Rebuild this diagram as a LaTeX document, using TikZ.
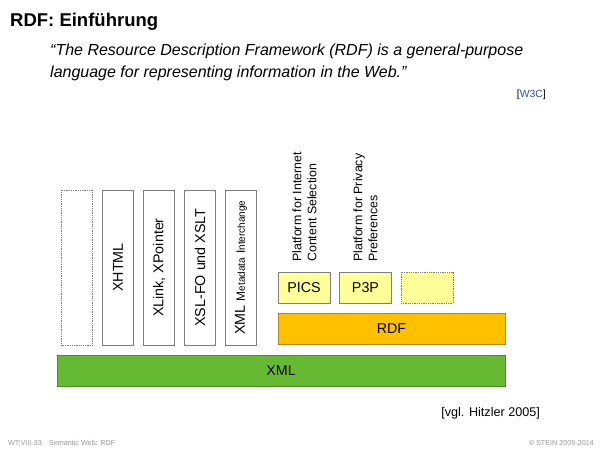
\documentclass[tikz,border=0pt]{standalone}
\usepackage{fontspec}
\setmainfont{Liberation Sans}
\definecolor{boxline}{HTML}{808080}
\definecolor{xmlgreen}{HTML}{66B933}
\definecolor{xmlline}{HTML}{4C8A2A}
\definecolor{rdforange}{HTML}{FFC000}
\definecolor{rdfline}{HTML}{B08A20}
\definecolor{paleyellow}{HTML}{FFFF99}
\definecolor{linkblue}{HTML}{2F4F9F}
\definecolor{footgray}{HTML}{9A9A9A}
\tikzset{
  vbox/.style={draw=boxline, fill=white, line width=0.8pt, rotate=90, minimum width=155pt, minimum height=31pt, inner sep=0pt, font=\fontsize{14.3}{16}\selectfont},
  vdot/.style={vbox, densely dotted},
  hbar/.style={line width=0.8pt, minimum height=31pt, inner sep=0pt, font=\fontsize{14.3}{16}\selectfont},
  smallbox/.style={draw=boxline, fill=paleyellow, line width=0.8pt, minimum width=52pt, minimum height=31pt, inner sep=0pt, font=\fontsize{14.3}{16}\selectfont},
  plabel/.style={rotate=90, anchor=west, align=left, inner sep=0pt, font=\fontsize{12.4}{15}\selectfont},
  foot/.style={inner sep=0pt, text=footgray, font=\fontsize{7.2}{9}\selectfont}
}
\begin{document}
\begin{tikzpicture}[x=1pt,y=-1pt]
\useasboundingbox (0,0) rectangle (600,450);
% title and quote
\node[anchor=base west, inner sep=0pt, font=\fontsize{18.5}{22}\selectfont\bfseries] (title) at (10,26) {RDF: Einführung};
\node[anchor=base west, inner sep=0pt, font=\fontsize{16}{22}\selectfont\itshape] (q1) at (50,55) {“The Resource Description Framework (RDF) is a general-purpose};
\node[anchor=base west, inner sep=0pt, font=\fontsize{16}{22}\selectfont\itshape] (q2) at (50,77) {language for representing information in the Web.”};
\node[anchor=base east, inner sep=0pt, font=\fontsize{10.4}{12}\selectfont] (w3c) at (546,97) {[\textcolor{linkblue}{W3C}]};
% vertical boxes
\node[vdot] (d1) at (77,267.5) {};
\node[vbox] (xhtml) at (118,267.5) {XHTML};
\node[vbox] (xlink) at (159,267.5) {XLink, XPointer};
\node[vbox] (xsl) at (200,267.5) {XSL-FO und XSLT};
\node[vbox] (xmi) at (241,267.5) {XML {\fontsize{12}{14}\selectfont M\fontsize{10}{12}\selectfont etadata} {\fontsize{12}{14}\selectfont I\fontsize{10}{12}\selectfont nterchange}};
% bars
\node[hbar, draw=xmlline, fill=xmlgreen, minimum width=448pt] (xml) at (281,370.5) {XML};
\node[hbar, draw=rdfline, fill=rdforange, minimum width=227pt] (rdf) at (391.5,328.5) {RDF};
% small boxes
\node[smallbox] (pics) at (304,287.5) {PICS};
\node[smallbox] (p3p) at (365.5,287.5) {P3P};
\node[smallbox, densely dotted] (d2) at (427,287.5) {};
% rotated labels
\node[plabel] (lpics) at (304.5,262) {Platform for Internet\\Content Selection};
\node[plabel] (lp3p) at (365.5,262) {Platform for Privacy\\Preferences};
% references and footer
\node[anchor=base east, inner sep=0pt, font=\fontsize{12.6}{15}\selectfont] (hitz) at (540,416) {[vgl. Hitzler 2005]};
\node[foot, anchor=base west] (fl) at (8,445) {WT:VIII-33\hspace{1em}Semantic Web: RDF};
\node[foot, anchor=base east] (fr) at (594,445) {© STEIN 2005-2014};
\end{tikzpicture}
\end{document}
